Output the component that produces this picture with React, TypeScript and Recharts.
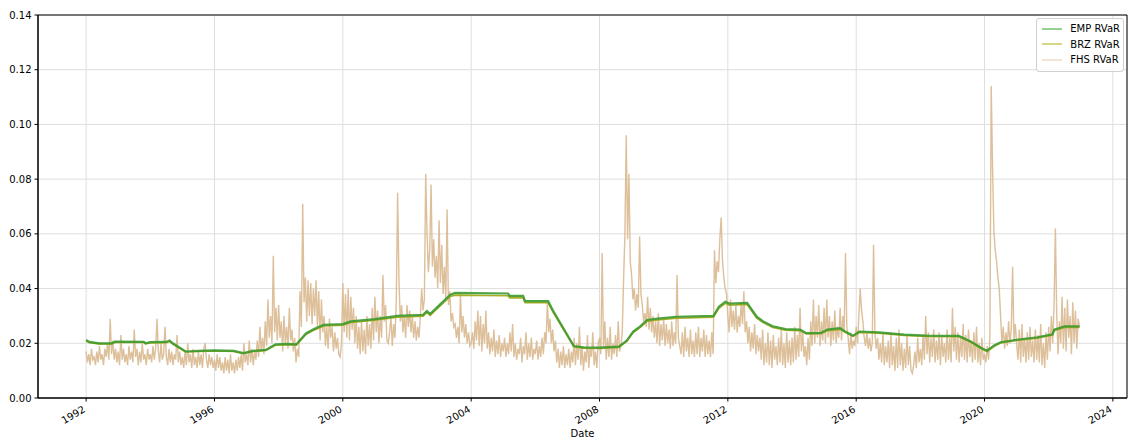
import { LineChart, Line, XAxis, YAxis, CartesianGrid, Legend, ReferenceArea } from 'recharts';

const X_MIN = 1990.5;
const X_MAX = 2024.44;

const xTicks = [1992, 1996, 2000, 2004, 2008, 2012, 2016, 2020, 2024];
const yTicks = [0, 0.02, 0.04, 0.06, 0.08, 0.1, 0.12, 0.14];

// FHS RVaR, sampled twice a month from Jan 1992, in thousandths
const FHS_START = 1992;
const FHS_PER_YEAR = 24;
const fhs = [
  17, 13, 16, 12, 18, 14, 15, 12, 17, 13, 19, 14, 16, 12, 18, 15, 20, 14, 29, 16, 21, 14, 18, 13, // 1992
  17, 12, 23, 14, 18, 13, 16, 12, 19, 14, 17, 13, 25, 15, 18, 12, 17, 13, 20, 14, 16, 12, 18, 14, // 1993
  16, 13, 19, 14, 18, 29, 17, 13, 20, 14, 16, 26, 15, 12, 18, 13, 17, 12, 16, 14, 23, 13, 17, 12, // 1994
  15, 11, 17, 12, 20, 13, 16, 11, 18, 12, 15, 11, 17, 12, 16, 11, 18, 20, 14, 11, 16, 12, 15, 11, // 1995
  14, 10, 16, 11, 15, 10, 13, 9, 15, 10, 14, 9, 16, 10, 13, 9, 14, 10, 15, 11, 16, 10, 20, 13, // 1996
  16, 12, 21, 13, 18, 12, 17, 14, 21, 15, 26, 17, 22, 16, 28, 19, 36, 22, 30, 20, 52, 24, 33, 21, // 1997
  34, 22, 28, 17, 30, 20, 26, 18, 33, 21, 25, 17, 22, 13, 18, 15, 39, 26, 71, 35, 44, 28, 43, 30, // 1998
  42, 27, 40, 30, 43, 26, 39, 21, 36, 24, 30, 19, 26, 18, 29, 22, 26, 17, 24, 18, 22, 16, 15, 20, // 1999
  42, 24, 38, 22, 40, 21, 37, 25, 33, 20, 30, 18, 26, 16, 28, 17, 25, 16, 30, 19, 27, 18, 33, 21, // 2000
  37, 24, 32, 20, 30, 22, 45, 28, 34, 21, 20, 24, 30, 19, 27, 22, 36, 75, 43, 28, 34, 24, 30, 22, // 2001
  34, 26, 32, 24, 30, 22, 28, 21, 26, 22, 30, 40, 32, 36, 82, 60, 46, 54, 78, 48, 58, 44, 52, 40, // 2002
  65, 42, 56, 38, 48, 36, 69, 34, 39, 28, 31, 26, 27, 22, 26, 20, 38, 24, 30, 22, 27, 20, 24, 19, // 2003
  20, 24, 18, 28, 21, 32, 19, 30, 17, 27, 20, 32, 18, 24, 16, 22, 17, 25, 15, 21, 16, 23, 15, 20, // 2004
  17, 22, 15, 20, 16, 24, 17, 27, 15, 20, 14, 18, 16, 22, 13, 19, 16, 24, 14, 20, 15, 22, 14, 18, // 2005
  16, 21, 14, 19, 15, 22, 16, 24, 20, 35, 24, 29, 20, 25, 17, 21, 13, 18, 11, 17, 12, 19, 11, 16, // 2006
  12, 18, 11, 17, 13, 22, 12, 20, 14, 26, 12, 19, 10, 17, 13, 23, 11, 18, 15, 24, 12, 17, 11, 20, // 2007
  22, 16, 53, 18, 28, 14, 22, 15, 26, 14, 20, 16, 23, 15, 28, 17, 19, 24, 43, 60, 96, 58, 82, 50, // 2008
  45, 36, 40, 32, 38, 33, 59, 38, 34, 28, 31, 26, 37, 25, 33, 24, 30, 22, 28, 20, 31, 19, 27, 21, // 2009
  29, 19, 27, 20, 25, 18, 28, 19, 24, 20, 45, 22, 19, 16, 24, 15, 26, 17, 22, 15, 25, 16, 21, 15, // 2010
  24, 16, 26, 15, 22, 17, 25, 15, 23, 16, 21, 15, 24, 16, 54, 42, 50, 46, 58, 66, 50, 44, 40, 38, // 2011
  30, 24, 36, 26, 32, 25, 34, 24, 30, 26, 35, 27, 39, 24, 28, 20, 26, 17, 24, 18, 27, 16, 23, 17, // 2012
  22, 14, 25, 12, 20, 13, 24, 12, 21, 11, 23, 14, 19, 12, 22, 13, 25, 12, 20, 11, 24, 13, 21, 12, // 2013
  22, 13, 26, 14, 23, 15, 33, 17, 24, 15, 19, 12, 22, 14, 28, 19, 36, 20, 30, 22, 34, 19, 28, 21, // 2014
  33, 20, 36, 22, 30, 19, 28, 21, 32, 20, 26, 22, 33, 21, 30, 24, 53, 26, 22, 16, 24, 18, 21, 19, // 2015
  26, 20, 30, 40, 32, 28, 22, 19, 24, 18, 22, 17, 20, 56, 24, 18, 22, 14, 20, 13, 24, 12, 19, 13, // 2016
  21, 11, 24, 12, 19, 10, 22, 11, 25, 12, 20, 10, 18, 11, 23, 12, 19, 10, 9, 12, 17, 11, 22, 13, // 2017
  18, 12, 23, 14, 30, 16, 24, 13, 22, 15, 25, 13, 21, 14, 24, 12, 23, 15, 20, 13, 25, 14, 22, 13, // 2018
  33, 17, 26, 14, 24, 13, 22, 15, 27, 14, 23, 13, 25, 15, 21, 13, 24, 14, 26, 13, 20, 12, 22, 14, // 2019
  16, 13, 19, 14, 22, 114, 84, 61, 54, 50, 44, 40, 30, 20, 26, 18, 24, 19, 28, 20, 25, 48, 21, 27, // 2020
  20, 14, 25, 13, 27, 15, 22, 13, 24, 14, 26, 15, 21, 13, 25, 14, 23, 13, 27, 12, 20, 11, 24, 14, // 2021
  26, 17, 30, 20, 34, 62, 30, 16, 28, 20, 37, 18, 33, 17, 36, 22, 30, 16, 35, 20, 32, 18, 29, 26, // 2022
];

// EMP RVaR: [year, value] at the turning points of the rolling estimate
const emp: [number, number][] = [
  [1992.0, 0.0212], [1992.1, 0.0205], [1992.4, 0.02], [1992.8, 0.02], [1992.9, 0.0206],
  [1993.8, 0.0205], [1993.85, 0.02], [1994.0, 0.0204], [1994.5, 0.0205], [1994.6, 0.021],
  [1994.7, 0.02], [1995.1, 0.017], [1995.5, 0.0172], [1996.0, 0.0174], [1996.6, 0.0172],
  [1996.9, 0.0164], [1997.2, 0.0172], [1997.6, 0.0176], [1997.9, 0.0196], [1998.3, 0.0198],
  [1998.55, 0.0196], [1998.85, 0.0236], [1999.1, 0.0252], [1999.4, 0.0267], [2000.0, 0.027],
  [2000.25, 0.028], [2001.0, 0.0288], [2001.7, 0.03], [2002.5, 0.0304], [2002.62, 0.0318],
  [2002.72, 0.0307], [2003.05, 0.0344], [2003.35, 0.0378], [2003.5, 0.0384], [2005.15, 0.0382],
  [2005.2, 0.0373], [2005.62, 0.0373], [2005.68, 0.0354], [2006.4, 0.0354], [2006.55, 0.032],
  [2007.2, 0.019], [2007.5, 0.0185], [2008.0, 0.0184], [2008.6, 0.0188], [2008.85, 0.021],
  [2009.05, 0.0243], [2009.27, 0.0262], [2009.48, 0.0285], [2009.8, 0.029], [2010.4, 0.0297],
  [2011.55, 0.03], [2011.72, 0.0334], [2011.92, 0.0352], [2012.05, 0.0345], [2012.6, 0.0348],
  [2012.9, 0.0297], [2013.1, 0.028], [2013.4, 0.0262], [2013.8, 0.0252], [2014.25, 0.025],
  [2014.45, 0.0237], [2014.9, 0.0238], [2015.1, 0.025], [2015.5, 0.0255], [2015.7, 0.024],
  [2015.9, 0.0228], [2016.1, 0.0243], [2016.7, 0.024], [2017.5, 0.0232], [2018.2, 0.0228],
  [2019.2, 0.0227], [2019.55, 0.0208], [2019.9, 0.0183], [2020.08, 0.0173], [2020.3, 0.0192],
  [2020.5, 0.0204], [2021.0, 0.0213], [2021.65, 0.0222], [2022.12, 0.0233], [2022.17, 0.025],
  [2022.5, 0.0262], [2022.96, 0.0262],
];

// BRZ RVaR: same turning points, sitting a little under EMP
const brz: [number, number][] = [
  [1992.0, 0.0208], [1992.1, 0.0202], [1992.4, 0.0198], [1992.8, 0.0198], [1992.9, 0.0203],
  [1993.8, 0.0203], [1993.85, 0.0198], [1994.0, 0.0201], [1994.5, 0.0202], [1994.6, 0.0207],
  [1994.7, 0.0197], [1995.1, 0.0168], [1995.5, 0.017], [1996.0, 0.0172], [1996.6, 0.017],
  [1996.9, 0.0162], [1997.2, 0.017], [1997.6, 0.0174], [1997.9, 0.0193], [1998.3, 0.0195],
  [1998.55, 0.0193], [1998.85, 0.0232], [1999.1, 0.0248], [1999.4, 0.0263], [2000.0, 0.0266],
  [2000.25, 0.0276], [2001.0, 0.0284], [2001.7, 0.0295], [2002.5, 0.0299], [2002.62, 0.0313],
  [2002.72, 0.0302], [2003.05, 0.0338], [2003.35, 0.0371], [2003.5, 0.0376], [2005.15, 0.0374],
  [2005.2, 0.0366], [2005.62, 0.0366], [2005.68, 0.0348], [2006.4, 0.0348], [2006.55, 0.0314],
  [2007.2, 0.0187], [2007.5, 0.0182], [2008.0, 0.0181], [2008.6, 0.0185], [2008.85, 0.0207],
  [2009.05, 0.0239], [2009.27, 0.0258], [2009.48, 0.028], [2009.8, 0.0285], [2010.4, 0.0292],
  [2011.55, 0.0295], [2011.72, 0.0328], [2011.92, 0.0346], [2012.05, 0.0339], [2012.6, 0.0342],
  [2012.9, 0.0292], [2013.1, 0.0276], [2013.4, 0.0258], [2013.8, 0.0248], [2014.25, 0.0246],
  [2014.45, 0.0234], [2014.9, 0.0235], [2015.1, 0.0246], [2015.5, 0.0251], [2015.7, 0.0237],
  [2015.9, 0.0225], [2016.1, 0.024], [2016.7, 0.0237], [2017.5, 0.0229], [2018.2, 0.0225],
  [2019.2, 0.0224], [2019.55, 0.0205], [2019.9, 0.018], [2020.08, 0.017], [2020.3, 0.0189],
  [2020.5, 0.0201], [2021.0, 0.021], [2021.65, 0.0219], [2022.12, 0.023], [2022.17, 0.0246],
  [2022.5, 0.0258], [2022.96, 0.0258],
];

// legend swatches are the series colours faded the way the plot's alpha does
const SERIES = [
  { name: 'EMP RVaR', swatch: '#72c172' },
  { name: 'BRZ RVaR', swatch: '#c9c95e' },
  { name: 'FHS RVaR', swatch: '#eedcc5' },
];

const fhsData = fhs.map((v, i) => ({ t: FHS_START + i / FHS_PER_YEAR, v: v / 1000 }));
const empData = emp.map(([t, v]) => ({ t, v }));
const brzData = brz.map(([t, v]) => ({ t, v }));

const FONT = "'DejaVu Sans', sans-serif";

function DateTick({ x, y, payload }: any) {
  return (
    <g transform={`translate(${x - 4},${y})`}>
      <text x={0} y={0} dy={8} textAnchor="end" transform="rotate(-30)" fontSize={10} fill="#000">
        {payload.value}
      </text>
    </g>
  );
}

function LegendBox() {
  return (
    <div
      style={{
        background: 'rgba(255,255,255,0.8)',
        border: '1px solid #d0d0d0',
        borderRadius: 3,
        padding: '2px 3px 3px 5px',
        fontSize: 10,
        lineHeight: '15.5px',
        color: '#000',
        fontFamily: FONT,
      }}
    >
      {SERIES.map((s) => (
        <div key={s.name} style={{ display: 'flex', alignItems: 'center', whiteSpace: 'nowrap' }}>
          <svg width={28} height={8} style={{ display: 'block' }}>
            <line x1={0} x2={20} y1={4} y2={4} stroke={s.swatch} strokeWidth={1.5} />
          </svg>
          <span>{s.name}</span>
        </div>
      ))}
    </div>
  );
}

export default function App() {
  return (
    <div style={{ position: 'absolute', left: 0, top: 0, fontFamily: FONT }}>
      <LineChart width={1128} height={439} margin={{ top: 15, right: 1, bottom: 0, left: 0 }}>
        <CartesianGrid stroke="#dedede" strokeWidth={1} />
        <XAxis
          dataKey="t"
          type="number"
          domain={[X_MIN, X_MAX]}
          ticks={xTicks}
          allowDataOverflow
          height={41}
          tickSize={3.5}
          tickMargin={3}
          tick={<DateTick />}
          tickLine={{ stroke: '#000' }}
          axisLine={{ stroke: '#000' }}
          interval={0}
          label={{ value: 'Date', position: 'insideBottom', offset: 2, fontSize: 10, fill: '#000' }}
        />
        <YAxis
          type="number"
          domain={[0, 0.14]}
          ticks={yTicks}
          width={38}
          tickSize={3.5}
          tickMargin={3}
          interval={0}
          tickFormatter={(v: number) => v.toFixed(2)}
          tick={{ fill: '#000', fontSize: 10 }}
          tickLine={{ stroke: '#000' }}
          axisLine={{ stroke: '#000' }}
        />
        <Line
          data={fhsData}
          dataKey="v"
          name="FHS RVaR"
          type="linear"
          stroke="#d9b88f"
          strokeOpacity={0.9}
          strokeWidth={1.4}
          dot={false}
          activeDot={false}
          isAnimationActive={false}
        />
        <Line
          data={brzData}
          dataKey="v"
          name="BRZ RVaR"
          type="linear"
          stroke="#a9ac24"
          strokeWidth={1.6}
          dot={false}
          activeDot={false}
          isAnimationActive={false}
        />
        <Line
          data={empData}
          dataKey="v"
          name="EMP RVaR"
          type="linear"
          stroke="#3a9a2f"
          strokeOpacity={0.9}
          strokeWidth={2.2}
          dot={false}
          activeDot={false}
          isAnimationActive={false}
        />
        <ReferenceArea
          x1={X_MIN}
          x2={X_MAX}
          y1={0}
          y2={0.14}
          fill="none"
          stroke="#000"
          strokeWidth={1}
          ifOverflow="visible"
        />
        <Legend
          layout="horizontal"
          verticalAlign="middle"
          align="center"
          wrapperStyle={{ top: 18, right: 4, left: 'auto', width: 'auto' }}
          content={<LegendBox />}
        />
      </LineChart>
    </div>
  );
}
